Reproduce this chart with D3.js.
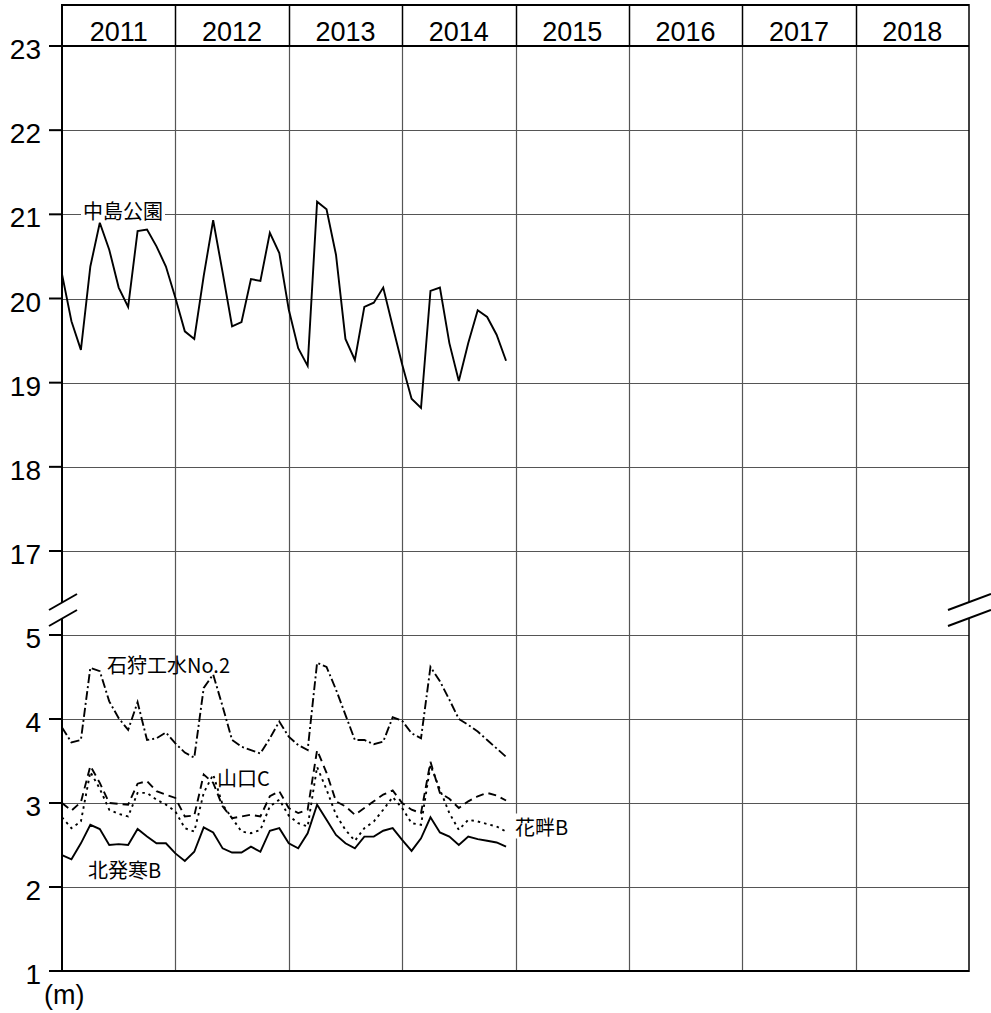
<!DOCTYPE html>
<html>
<head>
<meta charset="utf-8">
<script src="https://cdn.jsdelivr.net/npm/d3@7"></script>
<style>
  html, body { margin: 0; padding: 0; background: #fff; }
  svg { display: block; }
  .num { font-family: "Liberation Sans", Arial, sans-serif; fill: #000; }
  .jp { font-family: "Noto Sans CJK JP", sans-serif; fill: #000; }
</style>
</head>
<body>
<svg id="chart" width="991" height="1013"></svg>
<script>
// ---- data ----
const years = [2011, 2012, 2013, 2014, 2015, 2016, 2017, 2018];
const yTicks = [1, 2, 3, 4, 5, 17, 18, 19, 20, 21, 22, 23];
const startYear = 2011; // monthly values from Jan 2011

const nakajima = [20.29, 19.73, 19.39, 20.38, 20.90, 20.58, 20.13, 19.90, 20.80, 20.82, 20.62, 20.38,
                  20.01, 19.61, 19.52, 20.27, 20.93, 20.31, 19.67, 19.72, 20.23, 20.21, 20.78, 20.54,
                  19.87, 19.41, 19.20, 21.15, 21.06, 20.52, 19.52, 19.27, 19.90, 19.95, 20.13, 19.67,
                  19.22, 18.81, 18.70, 20.09, 20.13, 19.47, 19.02, 19.47, 19.86, 19.78, 19.57, 19.26];
const ishikari = [3.90, 3.72, 3.75, 4.61, 4.57, 4.21, 4.01, 3.87, 4.20, 3.75, 3.77, 3.84,
                  3.71, 3.60, 3.54, 4.37, 4.53, 4.15, 3.75, 3.67, 3.63, 3.59, 3.77, 3.97,
                  3.79, 3.69, 3.63, 4.67, 4.62, 4.35, 4.05, 3.75, 3.75, 3.70, 3.73, 4.02,
                  3.98, 3.83, 3.77, 4.62, 4.45, 4.23, 4.00, 3.93, 3.85, 3.75, 3.65, 3.55];
const yamaguchi = [3.00, 2.91, 3.01, 3.44, 3.24, 3.00, 2.99, 2.98, 3.23, 3.26, 3.14, 3.10,
                   3.06, 2.84, 2.85, 3.34, 3.24, 2.96, 2.82, 2.84, 2.86, 2.84, 3.08, 3.14,
                   2.94, 2.88, 2.92, 3.63, 3.36, 3.02, 2.96, 2.86, 2.94, 3.02, 3.10, 3.15,
                   3.00, 2.92, 2.88, 3.49, 3.12, 3.05, 2.94, 3.02, 3.08, 3.12, 3.09, 3.03];
const banguro = [2.83, 2.70, 2.78, 3.37, 3.17, 2.92, 2.87, 2.84, 3.12, 3.12, 3.04, 2.98,
                 2.90, 2.70, 2.66, 3.12, 3.34, 2.98, 2.82, 2.66, 2.64, 2.68, 2.96, 3.04,
                 2.85, 2.76, 2.72, 3.43, 3.16, 2.86, 2.68, 2.55, 2.70, 2.78, 2.92, 3.07,
                 2.94, 2.76, 2.74, 3.45, 3.16, 2.88, 2.68, 2.80, 2.78, 2.75, 2.72, 2.66];
const kitahassamu = [2.38, 2.33, 2.52, 2.74, 2.69, 2.50, 2.51, 2.50, 2.69, 2.60, 2.52, 2.52,
                     2.40, 2.31, 2.42, 2.71, 2.65, 2.46, 2.41, 2.41, 2.48, 2.42, 2.67, 2.70,
                     2.52, 2.46, 2.64, 2.98, 2.80, 2.62, 2.52, 2.46, 2.60, 2.60, 2.67, 2.70,
                     2.56, 2.43, 2.58, 2.83, 2.65, 2.60, 2.50, 2.60, 2.57, 2.55, 2.53, 2.48];

const seriesNames = ["中島公園", "石狩工水No.2", "山口C", "花畔B", "北発寒B"];
const seriesValues = [nakajima, ishikari, yamaguchi, banguro, kitahassamu];
const seriesDash = [null, "9,3,2,3", "8,5", "2.5,4", null];
const labelPos = [[83, 210, true], [107, 664, false], [217, 777, false], [515, 826, true], [88, 869, false]];

// ---- layout ----
const L = 62, R = 969, TOP = 5, HEAD = 46, BOT = 971;
const svg = d3.select("#chart");

const x = d3.scaleLinear().domain([2011, 2019]).range([L, R]);
const y = d3.scaleLinear().domain([1, 5, 17, 23]).range([BOT, 635, 551, HEAD]);

// horizontal grid
svg.append("g").selectAll("line").data(yTicks.filter(t => t !== 1 && t !== 23)).join("line")
  .attr("x1", L).attr("x2", R).attr("y1", d => Math.round(y(d)) + 0.5).attr("y2", d => Math.round(y(d)) + 0.5)
  .attr("stroke", "#555").attr("stroke-width", 1.2);

// vertical grid (year boundaries)
svg.append("g").selectAll("line").data(years.slice(1)).join("line")
  .attr("x1", d => Math.round(x(d)) + 0.5).attr("x2", d => Math.round(x(d)) + 0.5)
  .attr("y1", HEAD).attr("y2", BOT)
  .attr("stroke", "#555").attr("stroke-width", 1.2);

// header dividers
svg.append("g").selectAll("line").data(years.slice(1)).join("line")
  .attr("x1", d => Math.round(x(d)) + 0.5).attr("x2", d => Math.round(x(d)) + 0.5)
  .attr("y1", TOP).attr("y2", HEAD)
  .attr("stroke", "#000").attr("stroke-width", 1.5);

// header top & bottom
svg.append("line").attr("x1", L).attr("x2", R).attr("y1", TOP).attr("y2", TOP).attr("stroke", "#000").attr("stroke-width", 2);
svg.append("line").attr("x1", L - 13).attr("x2", R).attr("y1", HEAD).attr("y2", HEAD).attr("stroke", "#000").attr("stroke-width", 2);
// bottom axis
svg.append("line").attr("x1", L - 13).attr("x2", R).attr("y1", BOT).attr("y2", BOT).attr("stroke", "#000").attr("stroke-width", 2);

// left & right frame with break gap
const gapTop = 602.5, gapBot = 618.5;
[[L, 2], [R, 1.5]].forEach(([xx, w]) => {
  svg.append("line").attr("x1", xx).attr("x2", xx).attr("y1", TOP - 1).attr("y2", gapTop).attr("stroke", "#000").attr("stroke-width", w);
  svg.append("line").attr("x1", xx).attr("x2", xx).attr("y1", gapBot).attr("y2", BOT + 1).attr("stroke", "#000").attr("stroke-width", w);
});
// break slashes
[[49, 610, 77, 594], [49, 626, 77, 610], [948, 610, 991, 594], [948, 626, 991, 610]].forEach(s => {
  svg.append("line").attr("x1", s[0]).attr("y1", s[1]).attr("x2", s[2]).attr("y2", s[3])
    .attr("stroke", "#000").attr("stroke-width", 2);
});

// y ticks + labels
const yt = svg.append("g");
yt.selectAll("line").data(yTicks).join("line")
  .attr("x1", L - 13).attr("x2", L).attr("y1", d => y(d)).attr("y2", d => y(d))
  .attr("stroke", "#000").attr("stroke-width", 2);
yt.selectAll("text").data(yTicks).join("text")
  .attr("class", "num").attr("x", 41).attr("y", d => y(d) + 13)
  .attr("text-anchor", "end").attr("font-size", 28).text(d => d);

// year labels
svg.append("g").selectAll("text").data(years).join("text")
  .attr("class", "num").attr("x", d => x(d + 0.5)).attr("y", 41)
  .attr("text-anchor", "middle").attr("font-size", 27).text(d => d);

// unit
svg.append("text").attr("class", "num").attr("x", 44).attr("y", 1004).attr("font-size", 27).text("(m)");

// series
const line = d3.line().x((d, i) => x(startYear + i / 12)).y(d => y(d));
seriesValues.forEach((vals, k) => {
  const p = svg.append("path").datum(vals).attr("d", line)
    .attr("fill", "none").attr("stroke", "#000").attr("stroke-width", 1.9)
    .attr("stroke-linejoin", "miter");
  if (seriesDash[k]) p.attr("stroke-dasharray", seriesDash[k]);
});

// labels
seriesNames.forEach((name, k) => {
  const [lx, ly, bg] = labelPos[k];
  const t = svg.append("text").attr("class", "jp").attr("x", lx).attr("y", ly)
    .attr("dominant-baseline", "central").attr("font-size", 20).text(name);
  if (bg) {
    const bb = t.node().getBBox();
    svg.insert("rect", "text.jp")
      .attr("x", bb.x - 2).attr("y", bb.y + 2).attr("width", bb.width + 4).attr("height", bb.height - 4)
      .attr("fill", "#fff");
  }
});
</script>
</body>
</html>
